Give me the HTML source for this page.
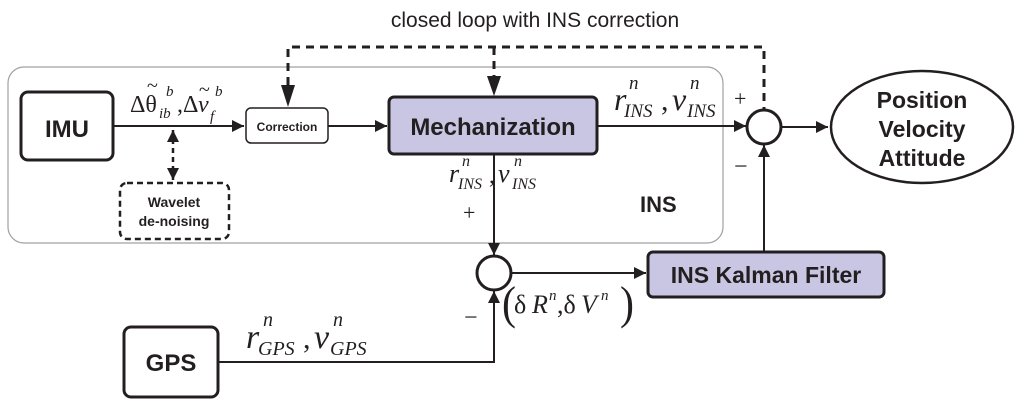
<!DOCTYPE html>
<html><head><meta charset="utf-8"><style>
html,body{margin:0;padding:0;background:#fff;}
svg{display:block;}
.b{font-family:"Liberation Sans",sans-serif;font-weight:bold;fill:#231f20;}
.m{font-family:"Liberation Serif",serif;font-style:italic;fill:#231f20;}
.r{font-family:"Liberation Serif",serif;fill:#231f20;}
</style></head><body>
<svg width="1024" height="408" viewBox="0 0 1024 408" xmlns="http://www.w3.org/2000/svg">
<defs>
<marker id="A" viewBox="0 0 10 10" refX="10" refY="5" markerWidth="14" markerHeight="12" markerUnits="userSpaceOnUse" orient="auto-start-reverse"><path d="M0,0 L10,5 L0,10 z" fill="#231f20"/></marker>
</defs>
<text x="535" y="27" text-anchor="middle" font-family="Liberation Sans,sans-serif" font-size="21" fill="#231f20">closed loop with INS correction</text>
<rect x="8" y="67" width="715" height="176" rx="16" fill="none" stroke="#a0a0a0" stroke-width="1.2"/>
<path d="M288,85 L288,47 L764,47 L764,109" fill="none" stroke="#231f20" stroke-width="3" stroke-dasharray="8,6"/>
<line x1="494" y1="47" x2="494" y2="78" stroke="#231f20" stroke-width="3" stroke-dasharray="8,6"/>
<path d="M281,85 L295,85 L288,107 z" fill="#231f20"/>
<path d="M487,76 L501,76 L494,96 z" fill="#231f20"/>
<!-- IMU -->
<rect x="21" y="92" width="92" height="68" rx="7" fill="#fff" stroke="#231f20" stroke-width="3"/>
<text x="67" y="137" text-anchor="middle" class="b" font-size="24">IMU</text>
<line x1="113" y1="126" x2="244" y2="126" stroke="#231f20" stroke-width="2" marker-end="url(#A)"/>
<text x="130" y="112" class="r" font-size="24">Δθ</text>
<text x="147" y="92" class="r" font-size="20">~</text>
<text x="159" y="118" class="m" font-size="15">ib</text>
<text x="166" y="96" class="m" font-size="15">b</text>
<text x="177" y="112" class="r" font-size="24">,Δ</text>
<text x="198" y="112" class="m" font-size="24">v</text>
<text x="199" y="96" class="r" font-size="20">~</text>
<text x="210" y="121" class="m" font-size="15">f</text>
<text x="215" y="96" class="m" font-size="15">b</text>
<!-- wavelet -->
<line x1="173" y1="130" x2="173" y2="180" stroke="#231f20" stroke-width="2.5" stroke-dasharray="5,4" marker-start="url(#A)" marker-end="url(#A)"/>
<rect x="120" y="183" width="109" height="56" rx="7" fill="#fff" stroke="#231f20" stroke-width="2.5" stroke-dasharray="6,4"/>
<text x="174" y="207" text-anchor="middle" class="b" font-size="14">Wavelet</text>
<text x="174" y="226" text-anchor="middle" class="b" font-size="14">de-noising</text>
<!-- correction -->
<rect x="246" y="108" width="82" height="35" rx="5" fill="#fff" stroke="#231f20" stroke-width="1.5"/>
<text x="287" y="131" text-anchor="middle" class="b" font-size="12">Correction</text>
<line x1="328" y1="126" x2="387" y2="126" stroke="#231f20" stroke-width="2" marker-end="url(#A)"/>
<!-- Mechanization -->
<rect x="389" y="97" width="208" height="57" rx="5" fill="#c8c6e2" stroke="#231f20" stroke-width="3"/>
<text x="493" y="135" text-anchor="middle" class="b" font-size="24">Mechanization</text>
<line x1="597" y1="126" x2="746" y2="126" stroke="#231f20" stroke-width="2" marker-end="url(#A)"/>
<text x="614" y="110" class="m" font-size="32">r</text>
<text x="629" y="89" class="m" font-size="19">n</text>
<text x="624" y="117" class="m" font-size="19">INS</text>
<text x="661" y="110" class="r" font-size="30">,</text>
<text x="672" y="110" class="m" font-size="32">v</text>
<text x="690" y="89" class="m" font-size="19">n</text>
<text x="687" y="117" class="m" font-size="19">INS</text>
<text x="734" y="106" class="r" font-size="22">+</text>
<text x="734" y="174" class="r" font-size="24">−</text>
<!-- circle 1 -->
<circle cx="764" cy="127" r="17" fill="#fff" stroke="#231f20" stroke-width="3"/>
<line x1="781" y1="127" x2="828" y2="127" stroke="#231f20" stroke-width="2" marker-end="url(#A)"/>
<ellipse cx="922" cy="127" rx="91" ry="56" fill="#fff" stroke="#231f20" stroke-width="2.5"/>
<text x="922" y="108" text-anchor="middle" class="b" font-size="23">Position</text>
<text x="922" y="137" text-anchor="middle" class="b" font-size="23">Velocity</text>
<text x="922" y="166" text-anchor="middle" class="b" font-size="23">Attitude</text>
<!-- mech down -->
<line x1="494" y1="154" x2="494" y2="255" stroke="#231f20" stroke-width="2" marker-end="url(#A)"/>
<text x="449" y="182" class="m" font-size="26">r</text>
<text x="462" y="166" class="m" font-size="16">n</text>
<text x="458" y="189" class="m" font-size="16">INS</text>
<text x="489" y="183" class="r" font-size="24">,</text>
<text x="498" y="182" class="m" font-size="26">v</text>
<text x="514" y="166" class="m" font-size="16">n</text>
<text x="512" y="189" class="m" font-size="16">INS</text>
<text x="463" y="220" class="r" font-size="22">+</text>
<text x="640" y="212" class="b" font-size="22">INS</text>
<!-- circle 2 -->
<circle cx="494" cy="273" r="17" fill="#fff" stroke="#231f20" stroke-width="3"/>
<line x1="511" y1="273" x2="646" y2="273" stroke="#231f20" stroke-width="2" marker-end="url(#A)"/>
<text x="502" y="317" class="r" font-size="42" transform="translate(0,-30) scale(1,1.1)">(</text>
<text x="514" y="313" class="r" font-size="26">δ</text>
<text x="532" y="313" class="m" font-size="26">R</text>
<text x="549" y="300" class="m" font-size="15">n</text>
<text x="557" y="313" class="r" font-size="26">,δ</text>
<text x="581" y="313" class="m" font-size="26">V</text>
<text x="601" y="300" class="m" font-size="15">n</text>
<text x="620" y="317" class="r" font-size="42" transform="translate(0,-30) scale(1,1.1)">)</text>
<text x="464" y="325" class="r" font-size="24">−</text>
<!-- Kalman -->
<rect x="648" y="252" width="236" height="45" rx="5" fill="#c8c6e2" stroke="#231f20" stroke-width="3"/>
<text x="766" y="283" text-anchor="middle" class="b" font-size="23">INS Kalman Filter</text>
<line x1="764" y1="252" x2="764" y2="145" stroke="#231f20" stroke-width="2" marker-end="url(#A)"/>
<!-- GPS -->
<rect x="124" y="327" width="94" height="70" rx="7" fill="#fff" stroke="#231f20" stroke-width="3"/>
<text x="171" y="371" text-anchor="middle" class="b" font-size="24">GPS</text>
<path d="M218,362 L494,362 L494,291" fill="none" stroke="#231f20" stroke-width="2" marker-end="url(#A)"/>
<text x="246" y="348" class="m" font-size="34">r</text>
<text x="263" y="326" class="m" font-size="20">n</text>
<text x="258" y="355" class="m" font-size="20">GPS</text>
<text x="303" y="348" class="r" font-size="30">,</text>
<text x="314" y="348" class="m" font-size="34">v</text>
<text x="333" y="326" class="m" font-size="20">n</text>
<text x="330" y="355" class="m" font-size="20">GPS</text>
</svg>
</body></html>
